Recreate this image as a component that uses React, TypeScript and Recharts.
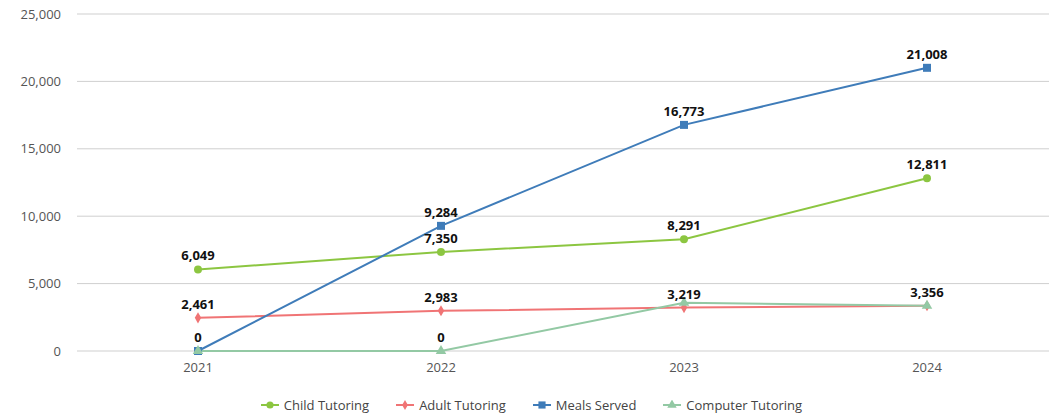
import { LineChart, Line, XAxis, YAxis, CartesianGrid, Legend, LabelList, Symbols } from "recharts";

const years = ["2021", "2022", "2023", "2024"];
const childTutoring = [6049, 7350, 8291, 12811];
const adultTutoring = [2461, 2983, 3219, 3356];
const mealsServed = [0, 9284, 16773, 21008];
const computerTutoring = [0, 0, 3580, 3356];
// which points carry a printed value label
const childShow = [true, true, true, true];
const adultShow = [true, true, true, true];
const mealsShow = [true, true, true, true];
const computerShow = [false, true, false, false];
const yTicks = [0, 5000, 10000, 15000, 20000, 25000];

const FONT = "'Open Sans', sans-serif";

const series = [
  { key: "child", name: "Child Tutoring", color: "#8cc641", shape: "circle", size: 50, values: childTutoring, show: childShow },
  { key: "adult", name: "Adult Tutoring", color: "#f07475", shape: "diamond", size: 36, values: adultTutoring, show: adultShow },
  { key: "meals", name: "Meals Served", color: "#3f7cb9", shape: "square", size: 64, values: mealsServed, show: mealsShow },
  { key: "computer", name: "Computer Tutoring", color: "#93c9a4", shape: "triangle", size: 48, values: computerTutoring, show: computerShow },
];

const data = years.map((year, i) => {
  const row: any = { year };
  series.forEach((s) => {
    row[s.key] = s.values[i];
    row[s.key + "Label"] = s.show[i] ? s.values[i].toLocaleString("en-US") : "";
  });
  return row;
});

function makeDot(shape: any, size: number, color: string) {
  return (props: any) => {
    const { cx, cy, index } = props;
    if (cx == null || cy == null) return <g key={index} />;
    return <Symbols key={index} cx={cx} cy={cy} type={shape} size={size} fill={color} stroke="none" />;
  };
}

function LegendContent() {
  return (
    <div style={{ display: "flex", justifyContent: "center", gap: 27, paddingTop: 15, paddingLeft: 14, fontFamily: FONT, fontSize: 13, color: "#444" }}>
      {series.map((s) => (
        <div key={s.key} style={{ display: "flex", alignItems: "center", gap: 5 }}>
          <svg width={18} height={10}>
            <line x1={0} y1={5} x2={18} y2={5} stroke={s.color} strokeWidth={2} />
            <Symbols cx={9} cy={5} type={s.shape as any} size={s.size * 0.8} fill={s.color} />
          </svg>
          <span>{s.name}</span>
        </div>
      ))}
    </div>
  );
}

export default function App() {
  return (
    <div style={{ position: "absolute", left: 0, top: 0, background: "#fff" }}>
      <LineChart width={1049} height={415} data={data} margin={{ top: 14, right: 0, bottom: 0, left: 0 }}>
        <CartesianGrid vertical={false} stroke="#cfcfcf" strokeWidth={1} />
        <XAxis
          dataKey="year"
          axisLine={false}
          tickLine={false}
          tickSize={0}
          tickMargin={12}
          height={30}
          padding={{ left: 121, right: 122 }}
          tick={{ fontSize: 13, fill: "#555", fontFamily: FONT }}
        />
        <YAxis
          domain={[0, 25000]}
          ticks={yTicks}
          interval={0}
          width={77}
          axisLine={false}
          tickLine={false}
          tickSize={0}
          tickMargin={16}
          tickFormatter={(v: number) => v.toLocaleString("en-US")}
          tick={{ fontSize: 13, fill: "#555", fontFamily: FONT }}
        />
        <Legend verticalAlign="bottom" height={34} content={<LegendContent />} />
        {series.map((s) => (
          <Line
            key={s.key}
            type="linear"
            dataKey={s.key}
            name={s.name}
            stroke={s.color}
            strokeWidth={2}
            dot={makeDot(s.shape, s.size, s.color)}
            activeDot={false}
            isAnimationActive={false}
          >
            <LabelList
              dataKey={s.key + "Label"}
              position="top"
              offset={9}
              style={{ fontSize: 13, fontWeight: 700, fill: "#111", fontFamily: FONT }}
            />
          </Line>
        ))}
      </LineChart>
    </div>
  );
}
